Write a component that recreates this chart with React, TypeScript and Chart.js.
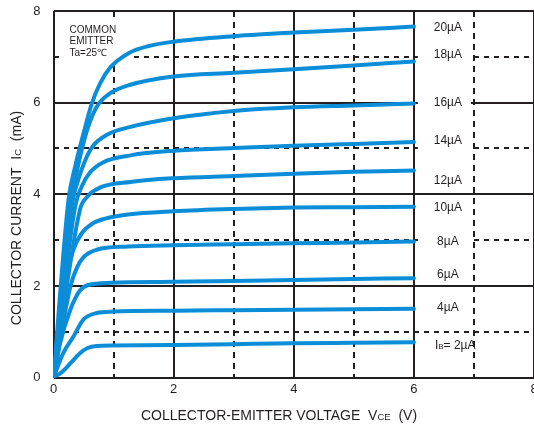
import React, { useEffect, useRef } from "react";
import { Chart, registerables } from "chart.js";

Chart.register(...registerables);

// Base current labels (top to bottom)
const baseCurrents = ["20µA", "18µA", "16µA", "14µA", "12µA", "10µA", "8µA", "6µA", "4µA", "2µA"];

// [VCE (V), IC (mA)]
const curve20 = [[0, 0], [0.25, 3.88], [0.36, 4.6], [0.5, 5.33], [0.64, 5.99], [0.78, 6.43], [0.94, 6.76], [1.25, 7.08], [1.6, 7.24], [2, 7.33], [3, 7.45], [4, 7.53], [5, 7.59], [6, 7.66]];
const curve18 = [[0, 0], [0.28, 3.73], [0.36, 4.31], [0.47, 4.97], [0.58, 5.48], [0.72, 5.91], [0.94, 6.2], [1.28, 6.39], [2, 6.57], [3, 6.65], [4, 6.73], [5, 6.81], [6, 6.9]];
const curve16 = [[0, 0], [0.3, 3.73], [0.41, 4.31], [0.53, 4.75], [0.66, 5.06], [0.89, 5.3], [1.28, 5.47], [2, 5.66], [3, 5.82], [4, 5.9], [5, 5.94], [6, 5.98]];
const curve14 = [[0, 0], [0.36, 3.73], [0.47, 4.17], [0.61, 4.48], [0.83, 4.7], [1.28, 4.85], [2, 4.95], [3, 5.01], [4, 5.06], [5, 5.1], [6, 5.14]];
const curve12 = [[0, 0], [0.44, 3.66], [0.55, 3.93], [0.78, 4.15], [1.28, 4.27], [2, 4.35], [3, 4.4], [4, 4.45], [5, 4.49], [6, 4.52]];
const curve10 = [[0, 0], [0.22, 2.2], [0.33, 2.79], [0.47, 3.15], [0.66, 3.37], [0.86, 3.47], [1.24, 3.56], [2, 3.63], [3, 3.68], [4, 3.71], [5, 3.72], [6, 3.73]];
const curve8 = [[0, 0], [0.28, 1.98], [0.39, 2.4], [0.5, 2.63], [0.72, 2.79], [1.24, 2.86], [2, 2.89], [3, 2.91], [4, 2.93], [5, 2.95], [6, 2.97]];
const curve6 = [[0, 0], [0.11, 0.75], [0.28, 1.48], [0.44, 1.9], [0.58, 2.02], [0.97, 2.07], [2, 2.09], [3, 2.11], [4, 2.13], [5, 2.15], [6, 2.17]];
const curve4 = [[0, 0], [0.16, 0.53], [0.33, 0.89], [0.5, 1.27], [0.72, 1.41], [1, 1.44], [2, 1.46], [3, 1.47], [4, 1.48], [5, 1.49], [6, 1.5]];
const curve2 = [[0, 0], [0.14, 0.12], [0.28, 0.31], [0.44, 0.53], [0.56, 0.64], [0.72, 0.69], [1, 0.7], [2, 0.71], [3, 0.73], [4, 0.75], [5, 0.76], [6, 0.77]];

const curves = [curve20, curve18, curve16, curve14, curve12, curve10, curve8, curve6, curve4, curve2];

const xTicks = [0, 1, 2, 3, 4, 5, 6, 7, 8];
const yTicks = [0, 1, 2, 3, 4, 5, 6, 7, 8];
const annotationLines = ["COMMON", "EMITTER", "Ta=25℃"];

const INK = "#231f20";
const BLUE = "#0b8dd8";
const FONT = "'Liberation Sans', Arial, Helvetica, sans-serif";

type Part = { t: string; size: number };

function partsWidth(ctx: CanvasRenderingContext2D, parts: Part[]) {
  let w = 0;
  for (const p of parts) {
    ctx.font = `${p.size}px ${FONT}`;
    w += ctx.measureText(p.t).width;
  }
  return w;
}

function drawParts(ctx: CanvasRenderingContext2D, parts: Part[], x: number, y: number) {
  let cx = x;
  for (const p of parts) {
    ctx.font = `${p.size}px ${FONT}`;
    ctx.fillText(p.t, cx, y);
    cx += ctx.measureText(p.t).width;
  }
}

const decorPlugin = {
  id: "decor",
  beforeDatasetsDraw(chart: any) {
    const ctx: CanvasRenderingContext2D = chart.ctx;
    const xs = chart.scales.x;
    const ys = chart.scales.y;
    ctx.save();
    // annotation box
    ctx.fillStyle = "#ffffff";
    ctx.fillRect(xs.left + 6, ys.top + 6, 74, 48);
    ctx.fillStyle = INK;
    ctx.font = `10px ${FONT}`;
    ctx.textAlign = "left";
    ctx.textBaseline = "middle";
    annotationLines.forEach((t, i) => {
      ctx.fillText(t, xs.left + 16, ys.top + 19 + i * 11.7);
    });

    // right-side base current labels
    const offsets = [1, -6.6, -1, -1, 10, 1, 0, -3, -1, 2];
    const x6 = xs.getPixelForValue(6);
    baseCurrents.forEach((label, i) => {
      const c = curves[i];
      const last = c[c.length - 1][1];
      const y = ys.getPixelForValue(last) + offsets[i];
      if (i < baseCurrents.length - 1) {
        ctx.fillStyle = "#ffffff";
        ctx.fillRect(x6 + 4, y - 8, 53, 16);
        ctx.fillStyle = INK;
        ctx.font = `12px ${FONT}`;
        ctx.textAlign = "center";
        ctx.textBaseline = "middle";
        ctx.fillText(label, x6 + 34, y);
      } else {
        ctx.fillStyle = INK;
        ctx.textAlign = "left";
        ctx.textBaseline = "alphabetic";
        drawParts(ctx, [{ t: "I", size: 12 }, { t: "B", size: 8 }, { t: "= " + label, size: 12 }], x6 + 21, y + 4.5);
      }
    });
    ctx.restore();
  },
  afterDraw(chart: any) {
    const ctx: CanvasRenderingContext2D = chart.ctx;
    ctx.save();
    ctx.fillStyle = INK;
    ctx.textAlign = "left";
    ctx.textBaseline = "alphabetic";
    const xParts: Part[] = [
      { t: "COLLECTOR-EMITTER VOLTAGE  V", size: 14 },
      { t: "CE", size: 9.5 },
      { t: "  (V)", size: 14 },
    ];
    const xw = partsWidth(ctx, xParts);
    drawParts(ctx, xParts, 279 - xw / 2, 420);

    const yParts: Part[] = [
      { t: "COLLECTOR CURRENT  I", size: 14 },
      { t: "C", size: 9.5 },
      { t: "  (mA)", size: 14 },
    ];
    const yw = partsWidth(ctx, yParts);
    ctx.translate(21, 218 + yw / 2);
    ctx.rotate(-Math.PI / 2);
    drawParts(ctx, yParts, 0, 0);
    ctx.restore();
  },
};

export default function App() {
  const ref = useRef<HTMLCanvasElement | null>(null);

  useEffect(() => {
    if (!ref.current) return;
    const chart = new Chart(ref.current, {
      type: "line",
      data: {
        datasets: curves.map((c, i) => ({
          label: baseCurrents[i],
          data: c.map(([x, y]) => ({ x, y })),
          borderColor: BLUE,
          borderWidth: 4,
          pointRadius: 0,
          fill: false,
          cubicInterpolationMode: "monotone" as const,
          borderCapStyle: "round" as const,
          borderJoinStyle: "round" as const,
        })),
      },
      options: {
        responsive: false,
        animation: false,
        layout: { padding: { top: 11, left: 0, right: 0, bottom: 0 } },
        plugins: { legend: { display: false }, tooltip: { enabled: false } },
        scales: {
          x: {
            type: "linear",
            min: 0,
            max: 8,
            afterBuildTicks: (s: any) => {
              s.ticks = xTicks.map((v) => ({ value: v }));
            },
            afterFit: (s: any) => {
              s.height = 49.4;
              s.paddingLeft = 0;
              s.paddingRight = 0;
            },
            ticks: {
              callback: (v: any) => (Number(v) % 2 === 0 ? String(v) : ""),
              color: INK,
              font: { family: FONT, size: 13 },
              padding: 4,
              maxRotation: 0,
              autoSkip: false,
            },
            grid: {
              color: INK,
              lineWidth: 2,
              drawTicks: false,
            },
            border: {
              display: false,
              dash: (ctx: any) => (ctx.tick && ctx.tick.value % 2 !== 0 ? [6, 5] : []),
            },
          },
          y: {
            type: "linear",
            min: 0,
            max: 8,
            afterBuildTicks: (s: any) => {
              s.ticks = yTicks.map((v) => ({ value: v }));
            },
            afterFit: (s: any) => {
              s.width = 53.5;
              s.paddingTop = 0;
              s.paddingBottom = 0;
            },
            ticks: {
              callback: (v: any) => (Number(v) % 2 === 0 ? String(v) : ""),
              color: INK,
              font: { family: FONT, size: 13 },
              padding: 13,
              autoSkip: false,
            },
            grid: {
              color: INK,
              lineWidth: 2,
              drawTicks: false,
            },
            border: {
              display: false,
              dash: (ctx: any) => (ctx.tick && ctx.tick.value % 2 !== 0 ? [5, 5] : []),
            },
          },
        },
      },
      plugins: [decorPlugin],
    } as any);
    return () => chart.destroy();
  }, []);

  return (
    <div style={{ position: "fixed", left: 0, top: 0, width: 534, height: 427, background: "#fff" }}>
      <canvas ref={ref} width={534} height={427} style={{ display: "block" }} />
    </div>
  );
}
